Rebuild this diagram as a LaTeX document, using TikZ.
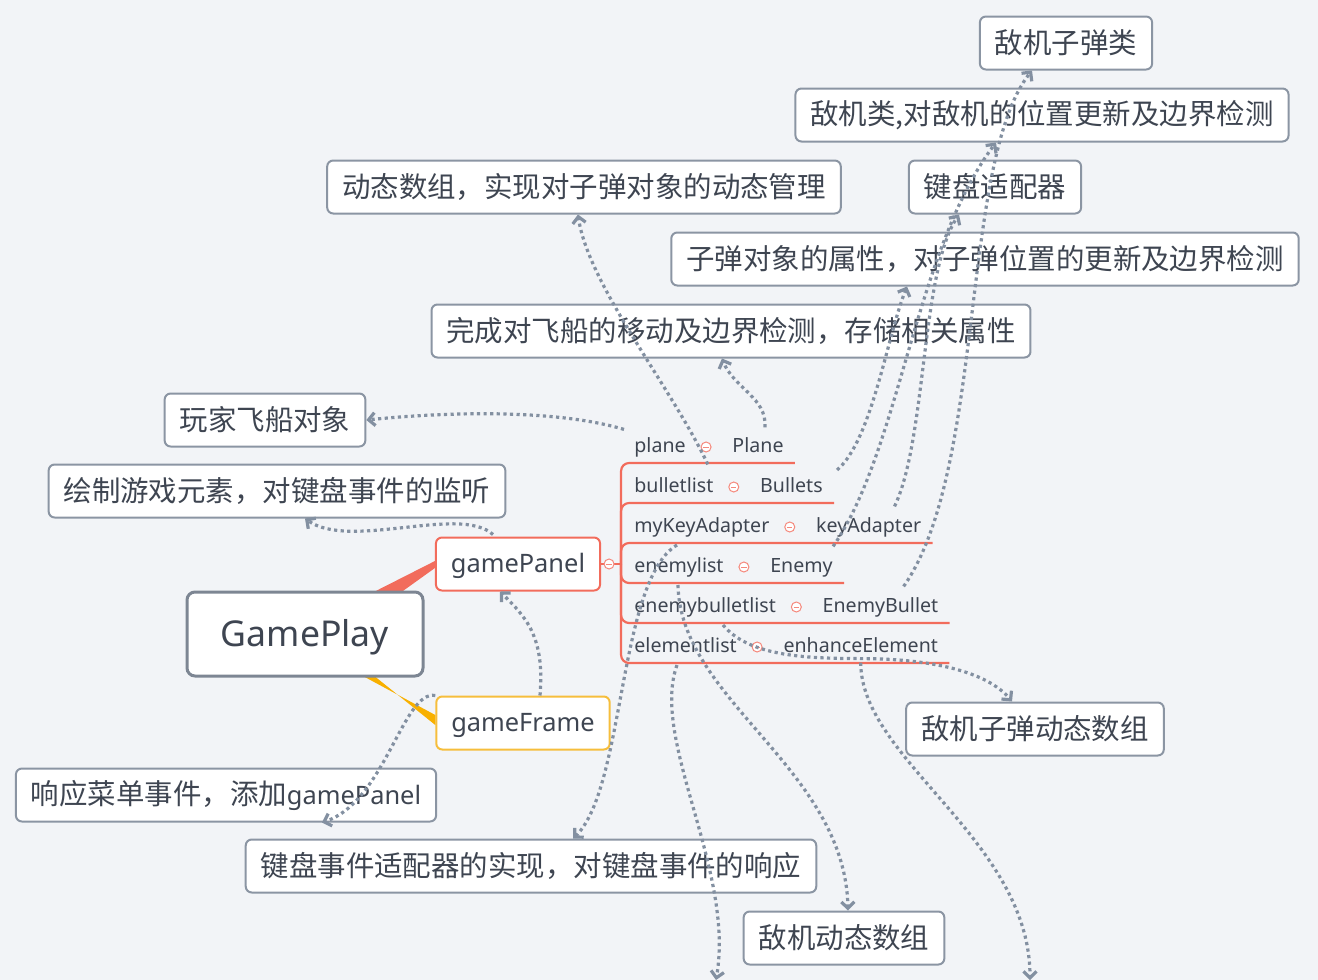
\documentclass[tikz,border=0pt]{standalone}
\usepackage{fontspec}
\setmainfont{Noto Sans}
\newfontfamily\cjk{Noto Sans CJK SC}[Scale=1.12]
\usepackage{xcolor}
\usepackage{tikz}
\usetikzlibrary{arrows.meta,calc}

\definecolor{bggray}{HTML}{F2F4F7}
\definecolor{boxgray}{HTML}{8B95A3}
\definecolor{txtgray}{HTML}{3E4551}
\definecolor{relgray}{HTML}{8390A1}
\definecolor{panelred}{HTML}{F26C5C}
\definecolor{frameyellow}{HTML}{F6BE3C}
\definecolor{wedgeyellow}{HTML}{F8B000}

\tikzset{
    desc/.style={rectangle, rounded corners=3pt, draw=boxgray, line width=1pt, fill=white,
        minimum height=26.5pt, inner xsep=7.5pt, inner ysep=0pt, text=txtgray,
        font=\fontsize{12.7}{15}\selectfont\cjk},
    topic/.style={desc, text height=11pt, text depth=2.4pt, font=\fontsize{12.7}{15}\selectfont},
    central/.style={rectangle, rounded corners=4pt, draw=boxgray!90!black, line width=1.5pt, fill=white,
        minimum width=118pt, minimum height=42pt, text height=16pt, text depth=3.8pt, text=txtgray,
        font=\fontsize{17.8}{21}\selectfont},
    attr/.style={anchor=west, inner sep=0pt, text height=7.2pt, text depth=2pt, text=txtgray,
        font=\fontsize{9.8}{12}\selectfont},
    fold/.style={circle, draw=panelred!80, line width=0.5pt, fill=white, inner sep=0pt, minimum size=5pt,
        path picture={\draw[panelred!80, line width=0.5pt] ([xshift=1.2pt]path picture bounding box.west)
            -- ([xshift=-1.2pt]path picture bounding box.east);}},
    branch/.style={draw=panelred, line width=1.1pt},
    rel/.style={draw=relgray, line width=1.6pt, dash pattern=on 1.6pt off 1.7pt,
        -{Straight Barb[length=3.2pt,width=6.5pt]}}
}

\begin{document}
\begin{tikzpicture}[x=0.5pt, y=-0.5pt]
    \fill[bggray] (0,0) rectangle (1318,980);
    \useasboundingbox (0,0) rectangle (1318,980);

    % Descriptions
    \node[desc] (dEBullet) at (1066,43) {敌机子弹类};
    \node[desc] (dEnemy) at (1042,115) {敌机类,对敌机的位置更新及边界检测};
    \node[desc] (dArray) at (584,187) {动态数组，实现对子弹对象的动态管理};
    \node[desc] (dAdapter) at (995,187) {键盘适配器};
    \node[desc] (dBullet) at (985,259) {子弹对象的属性，对子弹位置的更新及边界检测};
    \node[desc] (dPlane) at (731,331) {完成对飞船的移动及边界检测，存储相关属性};
    \node[desc] (dShip) at (265,420) {玩家飞船对象};
    \node[desc] (dDraw) at (277,491) {绘制游戏元素，对键盘事件的监听};
    \node[desc] (dMenu) at (226,795) {响应菜单事件，添加\normalfont gamePanel};
    \node[desc] (dKeyImpl) at (531,866) {键盘事件适配器的实现，对键盘事件的响应};
    \node[desc] (dEnemyArr) at (844,938) {敌机动态数组};
    \node[desc] (dEBArr) at (1035,729) {敌机子弹动态数组};
    \coordinate (offElem) at (716,980);
    \coordinate (offEnh) at (1030,980);

    % Topics and main branches
    \node[topic, draw=panelred] (panel) at (518,564) {gamePanel};
    \node[topic, draw=frameyellow] (frame) at (523,723) {gameFrame};
    \coordinate (gpc) at (305,634);
    \fill[panelred] ($(gpc)+(-14,0)$) -- ($(panel.west)+(0,-3)$) -- ($(panel.west)+(0,4)$) -- ($(gpc)+(38,0)$) -- cycle;
    \fill[wedgeyellow] ($(gpc)+(-20,0)$) -- ($(frame.west)+(0,-8)$) -- ($(frame.west)+(0,2)$) -- ($(gpc)+(17,0)$) -- cycle;
    \node[central] (gp) at (gpc) {GamePlay};

    % Attributes of gamePanel
    \draw[branch] (panel.east) -- ++(20,0) coordinate (stem);
    \node[fold] (f0) at ($(panel.east)+(8,0)$) {};
    \foreach \nm/\tp [count=\i] in {plane/Plane, bulletlist/Bullets, myKeyAdapter/keyAdapter,
            enemylist/Enemy, enemybulletlist/EnemyBullet, elementlist/enhanceElement} {
        \node[attr] (n\i) at (634,407+40*\i) {\nm};
        \node[fold] (f\i) at ($(n\i.east)+(20,0)$) {};
        \node[attr] (t\i) at ($(f\i)+(26,0)$) {\tp};
        \draw[branch, rounded corners=4pt] (stem) |- ($(t\i.east)+(11,16)$);
    }

    % Relations
    \draw[rel] ($(n1.north west)+(-10,-8)$) .. controls +(-60,-18) and +(100,-10) .. (dShip.east);
    \draw[rel] ($(t1.north)+(7,-10)$) .. controls +(2,-30) and +(12,30) .. ($(dPlane.south)+(-9,0)$);
    \draw[rel] ($(n2.north east)+(-6,-13)$) .. controls +(-35,-75) and +(10,70) .. ($(dArray.south)+(-6,0)$);
    \draw[rel] ($(t2.east)+(14,-17)$) .. controls +(35,-30) and +(-20,50) .. ($(dBullet.south)+(-78,0)$);
    \draw[rel] ($(n3.west)+(43,18)$) .. controls +(-59,35) and +(52,-50) .. ($(dKeyImpl.north)+(42,0)$);
    \draw[rel] ($(n4.west)+(44,18)$) .. controls +(2,115) and +(-3,-142) .. ($(dEnemyArr.north)+(4,0)$);
    \draw[rel] ($(n5.west)+(89,18)$) .. controls +(25,30) and +(-60,0) .. ($(t6.south)+(0,2)$)
        .. controls +(70,0) and +(-25,-30) .. ($(dEBArr.north)+(-23,0)$);
    \draw[rel] ($(n6.west)+(43,18)$) .. controls +(-27,75) and +(19,-110) .. (offElem);
    \draw[rel] ($(t6.south)+(0,6)$) .. controls +(0,97) and +(0,-140) .. (offEnh);
    \draw[rel] ($(t3.north east)+(-27,-11)$) .. controls +(32,-67) and +(-38,57) .. ($(dAdapter.south)+(-36,0)$);
    \draw[rel] ($(t4.north east)+(0,-11)$) .. controls +(67,-97) and +(-81,108) .. ($(dEnemy.south)+(-46,0)$);
    \draw[rel] ($(t5.north east)+(-35,-11)$) .. controls +(82,-117) and +(-72,91) .. ($(dEBullet.south)+(-34,0)$);
    \draw[rel] ($(panel.north)+(-25,-2)$) .. controls +(-33,-30) and +(45,32) .. ($(dDraw.south)+(28,0)$);
    \draw[rel] ($(frame.north)+(17,0)$) .. controls +(5,-60) and +(25,25) .. ($(panel.south)+(-18,0)$);
    \draw[rel] (frame.north west) .. controls +(-32,-6) and +(63,-21) .. ($(dMenu.south)+(96,0)$);
\end{tikzpicture}
\end{document}
